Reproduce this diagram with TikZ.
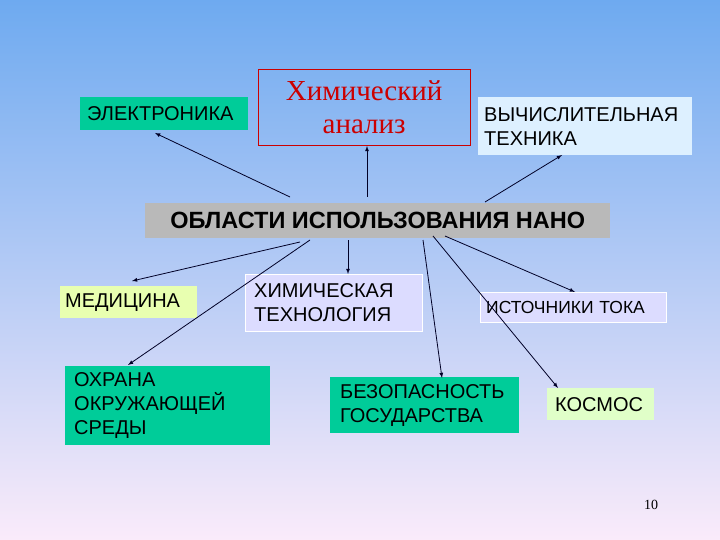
\documentclass[tikz,border=0pt]{standalone}
\usepackage{fontspec}
\setmainfont{Liberation Sans}
\newfontfamily\timesf{Liberation Serif}
\begin{document}
\begin{tikzpicture}[x=1pt,y=-1pt,
  bx/.style={anchor=north west,inner sep=0pt,align=left,font=\fontsize{20}{24}\selectfont},
  arr/.style={-latex,thick,black!85!blue}]
\definecolor{gr}{HTML}{00CC99}
\definecolor{pg}{HTML}{E8FFB0}
\definecolor{lb}{HTML}{DDF0FF}
\definecolor{lav}{HTML}{DCDCFF}
\definecolor{kg}{HTML}{E0FFC8}
\shade[top color={rgb,255:red,110;green,170;blue,240},bottom color={rgb,255:red,250;green,235;blue,250}] (0,0) rectangle (720,540);
\useasboundingbox (0,0) rectangle (720,540);
\node[bx,fill=gr,minimum width=168,minimum height=33,text width=168] (el) at (80,97) {\hspace{7pt}ЭЛЕКТРОНИКА};
\node[draw=red!80!black,anchor=north west,minimum width=212,minimum height=76,text=red!80!black,align=center,font=\timesf\fontsize{29}{33}\selectfont] (ha) at (258,69) {Химический\\анализ};
\node[bx,fill=lb,minimum width=214,minimum height=58,text width=214] (vt) at (478,97) {\hspace{6pt}\parbox{205pt}{ВЫЧИСЛИТЕЛЬНАЯ\\ТЕХНИКА}};
\node[fill=gray!55,anchor=north west,minimum width=465,minimum height=35,font=\bfseries\fontsize{23.5}{26}\selectfont] (ob) at (145,203) {ОБЛАСТИ ИСПОЛЬЗОВАНИЯ НАНО};
\node[bx,fill=pg,minimum width=137,minimum height=32,text width=137] (med) at (60,286) {\hspace{5pt}МЕДИЦИНА};
\node[bx,fill=lav,draw=white,minimum width=177,minimum height=57,text width=177] (ht) at (245,274) {\hspace{9pt}\parbox{165pt}{ХИМИЧЕСКАЯ\\ТЕХНОЛОГИЯ}};
\node[bx,fill=lav,draw=white,minimum width=186,minimum height=30,text width=186,font=\fontsize{17.5}{20}\selectfont] (it) at (480,292) {\hspace{6pt}\mbox{ИСТОЧНИКИ ТОКА}};
\node[bx,fill=gr,minimum width=205,minimum height=79,text width=205] (oh) at (65,366) {\hspace{9pt}\parbox{190pt}{ОХРАНА\\ОКРУЖАЮЩЕЙ\\СРЕДЫ}};
\node[bx,fill=gr,minimum width=189,minimum height=56,text width=189] (bz) at (330,377) {\hspace{10pt}\parbox{175pt}{БЕЗОПАСНОСТЬ\\ГОСУДАРСТВА}};
\node[bx,fill=kg,minimum width=107,minimum height=32,text width=107] (ko) at (547,388) {\hspace{8pt}КОСМОС};
\node[font=\timesf\fontsize{14}{16}\selectfont] (pn) at (651,505) {10};
\coordinate (s1) at (290,197); \coordinate (e1) at (155,133);
\coordinate (s2) at (367,197); \coordinate (e2) at (367,146);
\coordinate (s3) at (485,202); \coordinate (e3) at (562,155);
\coordinate (s4) at (300,242); \coordinate (e4) at (132,281);
\coordinate (s5) at (310,240); \coordinate (e5) at (128,365);
\coordinate (s6) at (348,240); \coordinate (e6) at (348,274);
\coordinate (s7) at (423,240); \coordinate (e7) at (442,378);
\coordinate (s8) at (445,236); \coordinate (e8) at (575,292);
\coordinate (s9) at (433,236); \coordinate (e9) at (558,388);
\foreach \i in {1,...,9} \draw[arr] (s\i) -- (e\i);
\end{tikzpicture}
\end{document}
